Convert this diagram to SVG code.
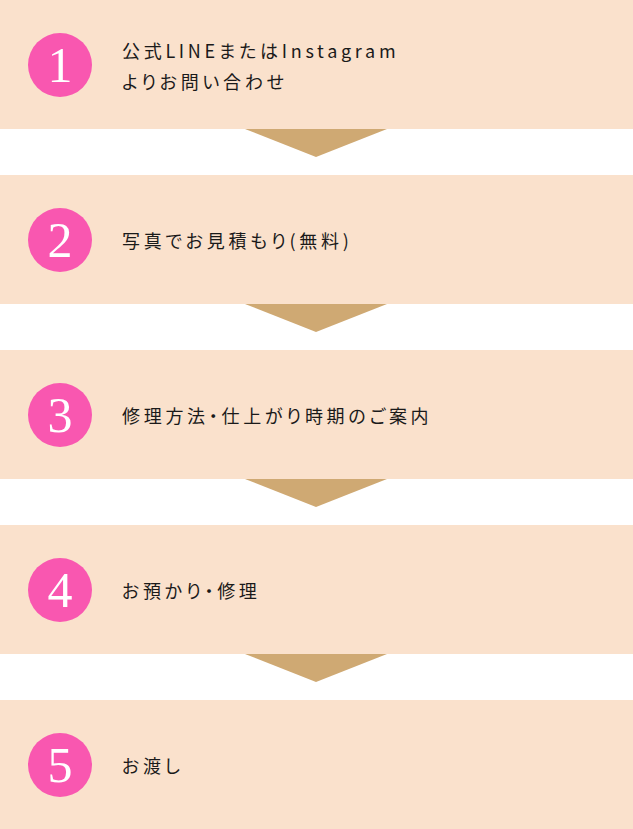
<svg xmlns="http://www.w3.org/2000/svg" width="633" height="829" viewBox="0 0 633 829">
<style>
.panel{fill:#fae1cc}
.badge{fill:#f957b0}
.num{fill:#fff;font-family:"Liberation Serif","DejaVu Serif",serif;font-size:50px;text-anchor:middle}
.label{fill:#1a1a1a;font-family:"Noto Sans CJK JP","Noto Sans",sans-serif;font-size:18px;letter-spacing:3.7px;dominant-baseline:central;font-feature-settings:"palt"}
.arrow{fill:#cfa973}
</style>
<rect width="633" height="829" fill="#fff"/>
<g id="step1">
<rect class="panel" x="0" y="0" width="633" height="129"/>
<circle class="badge" cx="60" cy="65" r="32"/>
<text class="num" x="60" y="82">1</text>
<text class="label" x="122" y="50">公式LINEまたはInstagram</text>
<text class="label" x="122" y="81">よりお問い合わせ</text>
</g>
<g id="step2">
<rect class="panel" x="0" y="175" width="633" height="129"/>
<circle class="badge" cx="60" cy="240" r="32"/>
<text class="num" x="60" y="257">2</text>
<text class="label" x="122" y="240">写真でお見積もり(無料)</text>
</g>
<g id="step3">
<rect class="panel" x="0" y="350" width="633" height="129"/>
<circle class="badge" cx="60" cy="415" r="32"/>
<text class="num" x="60" y="432">3</text>
<text class="label" x="122" y="415">修理方法・仕上がり時期のご案内</text>
</g>
<g id="step4">
<rect class="panel" x="0" y="525" width="633" height="129"/>
<circle class="badge" cx="60" cy="590" r="32"/>
<text class="num" x="60" y="607">4</text>
<text class="label" x="122" y="590">お預かり・修理</text>
</g>
<g id="step5">
<rect class="panel" x="0" y="700" width="633" height="129"/>
<circle class="badge" cx="60" cy="765" r="32"/>
<text class="num" x="60" y="782">5</text>
<text class="label" x="122" y="765">お渡し</text>
</g>
<g id="connectors">
<polygon class="arrow" points="245,129 387,129 316,157"/>
<polygon class="arrow" points="245,304 387,304 316,332"/>
<polygon class="arrow" points="245,479 387,479 316,507"/>
<polygon class="arrow" points="245,654 387,654 316,682"/>
</g>
</svg>
